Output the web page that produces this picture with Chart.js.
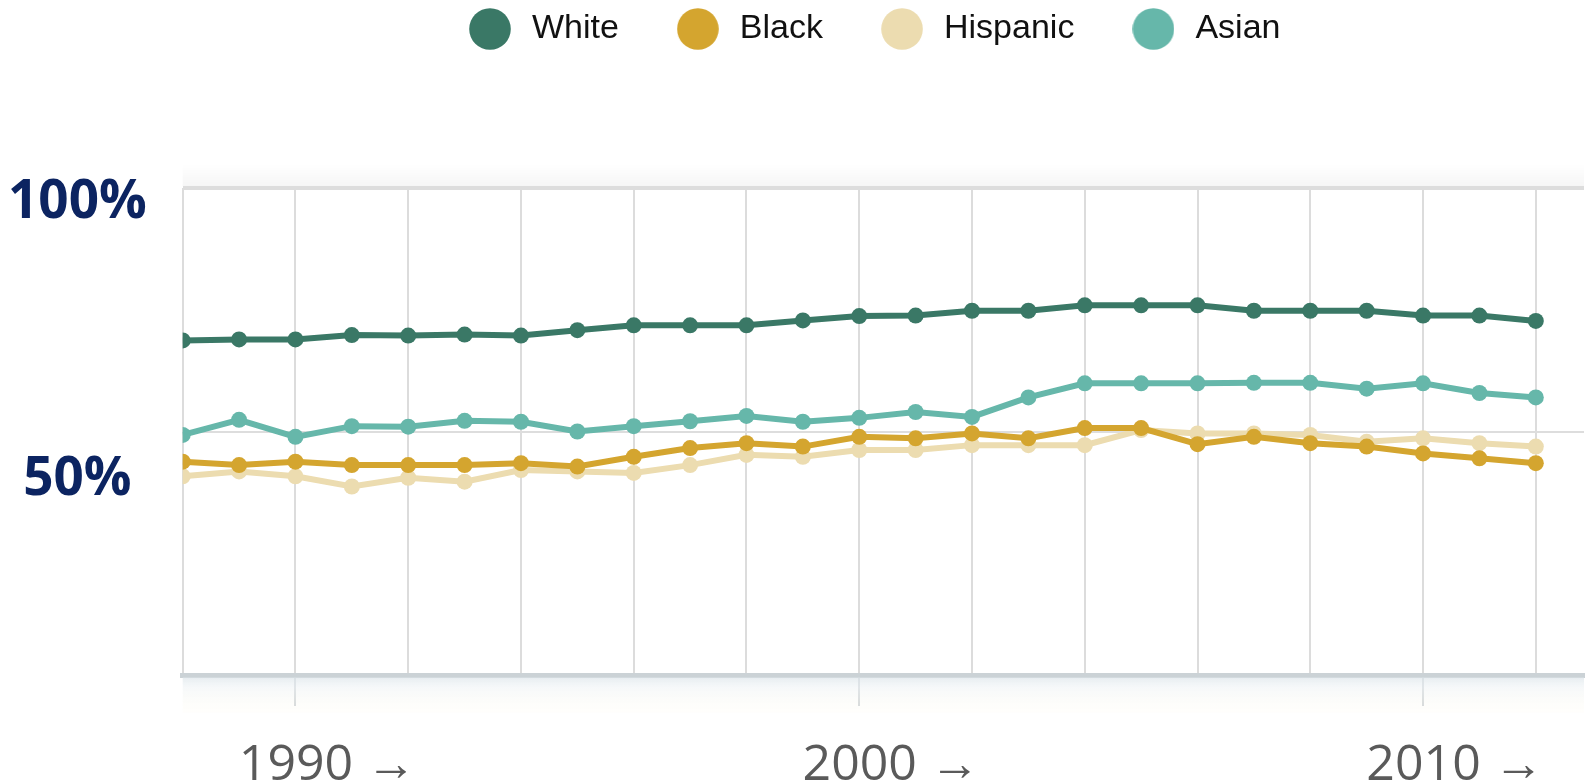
<!DOCTYPE html>
<html><head><meta charset="utf-8">
<script src="https://cdn.jsdelivr.net/npm/chart.js@4.4.1/dist/chart.umd.min.js"></script>
<style>html,body{margin:0;padding:0;background:#fff;overflow:hidden}#wrap{width:1592px;height:783px;position:relative}</style>
</head><body><div id="wrap"><canvas id="c" width="1592" height="783"></canvas></div>
<script>
// ---- data ----
const years = [1988,1989,1990,1991,1992,1993,1994,1995,1996,1997,1998,1999,2000,2001,2002,2003,2004,2005,2006,2007,2008,2009,2010,2011,2012];
const seriesNames = ['White','Black','Hispanic','Asian'];
const white    = [68.7,68.9,68.9,69.8,69.7,69.9,69.7,70.8,71.8,71.8,71.8,72.8,73.7,73.8,74.8,74.8,75.9,75.9,75.9,74.8,74.8,74.8,73.8,73.8,72.7];
const black    = [43.8,43.1,43.8,43.1,43.1,43.1,43.5,42.8,44.8,46.6,47.6,46.9,48.9,48.6,49.6,48.6,50.7,50.7,47.4,48.9,47.6,46.9,45.5,44.5,43.5];
const hispanic = [40.8,41.8,40.8,38.7,40.5,39.7,42.1,41.8,41.5,43.1,45.2,44.8,46.2,46.2,47.2,47.2,47.2,50.3,49.6,49.6,49.3,47.9,48.6,47.6,46.9];
const asian    = [49.3,52.4,48.9,51.1,51.0,52.2,52.0,50.0,51.1,52.1,53.2,52.0,52.8,54.0,53.0,57.0,59.9,59.9,59.9,60.0,60.0,58.8,59.9,57.9,57.0];
const xGridYears = [1988,1990,1992,1994,1996,1998,2000,2002,2004,2006,2008,2010,2012];
const xLabelYears = [1990,2000,2010];
const yGridValues = [0,50,100];
const yLabelValues = [50,100];

const seriesColors = ['#3a7866','#d4a52f','#ecdcb0','#66b7aa'];
const seriesData = [white, black, hispanic, asian];

function makeDot(color){
  const c = document.createElement('canvas');
  c.width = 42; c.height = 42;
  const g = c.getContext('2d');
  g.fillStyle = color; g.beginPath(); g.arc(21,21,20.8,0,Math.PI*2); g.fill();
  return c;
}

const datasets = seriesNames.map((name,i)=>({
  label: name,
  data: years.map((x,j)=>({x, y: seriesData[i][j]})),
  borderColor: seriesColors[i],
  backgroundColor: seriesColors[i],
  pointBackgroundColor: seriesColors[i],
  pointBorderWidth: 0,
  pointRadius: 8,
  borderWidth: 6,
  tension: 0,
  clip: 0
}));

const decor = {
  id:'decor',
  afterLayout(chart){
    const lg = chart.legend;
    lg.left += 76.7; lg.right += 76.7;
    lg.top = -42; lg.bottom = lg.top + lg.height;
  },
  beforeDatasetsDraw(chart){
    const {ctx, chartArea:a} = chart;
    ctx.save();
    let g = ctx.createLinearGradient(0, a.bottom+2, 0, a.bottom+37);
    g.addColorStop(0,'rgba(222,230,235,0.75)');
    g.addColorStop(0.3,'rgba(240,244,246,0.6)');
    g.addColorStop(1,'rgba(255,251,240,0.2)');
    ctx.fillStyle = g;
    ctx.fillRect(a.left, a.bottom+2.5, a.right-a.left, 35);
    let g2 = ctx.createLinearGradient(0, a.top-24, 0, a.top-2);
    g2.addColorStop(0,'rgba(0,0,0,0)');
    g2.addColorStop(1,'rgba(0,0,0,0.035)');
    ctx.fillStyle = g2;
    ctx.fillRect(a.left, a.top-24, a.right-a.left, 22);
    ctx.restore();
  }
};

new Chart(document.getElementById('c'), {
  type: 'line',
  data: { datasets },
  plugins: [decor],
  options: {
    responsive: false,
    animation: false,
    devicePixelRatio: 1,
    layout: { padding: { left: 0, top: 90, right: 0, bottom: 0 } },
    plugins: {
      tooltip: { enabled: false },
      legend: {
        display: true,
        position: 'top',
        align: 'center',
        labels: {
          usePointStyle: true,
          pointStyleWidth: 50,
          padding: 54,
          color: '#111',
          font: { family: "'Liberation Sans', Arial, sans-serif", size: 34 },
          generateLabels(chart){
            return chart.data.datasets.map((ds,i)=>({
              text: ds.label,
              fillStyle: ds.borderColor,
              strokeStyle: ds.borderColor,
              lineWidth: 0,
              pointStyle: makeDot(ds.borderColor),
              hidden: false,
              datasetIndex: i,
              fontColor: '#111'
            }));
          }
        }
      }
    },
    scales: {
      x: {
        type: 'linear',
        min: 1988,
        max: 2012.855,
        afterBuildTicks(scale){ scale.ticks = xGridYears.map(v=>({value:v})); },
        afterFit(scale){ scale.height = 108; },
        grid: {
          color: '#dcdcdc',
          lineWidth: 2,
          tickLength: 31,
          tickWidth: 2,
          tickColor: (ctx)=> (ctx.tick && xLabelYears.includes(ctx.tick.value)) ? '#c9ced2' : 'rgba(0,0,0,0)'
        },
        border: { display: true, color: '#cbd2d6', width: 5 },
        ticks: {
          autoSkip: false,
          maxRotation: 0,
          minRotation: 0,
          padding: 30,
          labelOffset: 32,
          color: '#5a5a5a',
          font: { family: "'Open Sans', sans-serif", size: 50 },
          callback: (v)=> xLabelYears.includes(v) ? v + ' \u2192' : ''
        }
      },
      y: {
        type: 'linear',
        position: 'left',
        min: 0,
        max: 100,
        afterBuildTicks(scale){ scale.ticks = yGridValues.map(v=>({value:v})); },
        afterFit(scale){ scale.width = 0; },
        grid: {
          drawTicks: false,
          color: (ctx)=> (ctx.tick && ctx.tick.value === 0) ? 'rgba(0,0,0,0)' : '#dddddd',
          lineWidth: (ctx)=> (ctx.tick && ctx.tick.value === 100) ? 4 : 2
        },
        border: { display: false },
        ticks: { display: false }
      },
      y2: {
        type: 'linear',
        position: 'left',
        min: 14.84,
        max: 102.61,
        afterBuildTicks(scale){ scale.ticks = yLabelValues.map(v=>({value:v})); },
        afterFit(scale){ scale.width = 182.7; },
        grid: { display: false, drawTicks: false },
        border: { display: false },
        ticks: {
          autoSkip: false,
          crossAlign: 'center',
          padding: 36,
          color: '#0c2461',
          font: { family: "'Open Sans', sans-serif", size: 53, weight: 'bold' },
          callback: (v)=> v + '%'
        }
      }
    }
  }
});
</script>
</body></html>
